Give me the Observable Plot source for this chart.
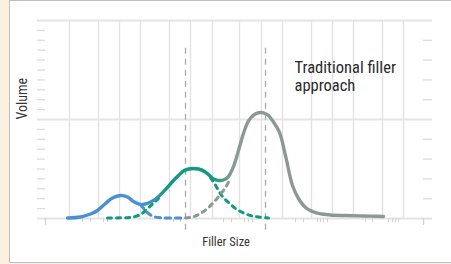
<!DOCTYPE html>
<html><head><meta charset="utf-8">
<script src="https://cdn.jsdelivr.net/npm/d3@7"></script>
<script src="https://cdn.jsdelivr.net/npm/@observablehq/plot@0.6"></script>
<style>
html,body{margin:0;padding:0;}
body{width:451px;height:264px;background:#fdf0e1;position:relative;overflow:hidden;}
#panel{position:absolute;left:9px;top:0;width:442px;height:263px;box-sizing:border-box;border:1px solid #bfbfbf;border-right:none;background:#fff;}
#chart{position:absolute;left:0;top:0;}
</style></head><body><div id="panel"></div><div id="chart"></div>
<script>
// ---- data (x in arbitrary filler-size units, y in volume units) ----
const totalX = [3.0,4.3,5.3,6.0,6.8,7.5,8.3,9.0,9.6,10.3,11.0,11.5,12.0,12.8,13.6,14.1,14.6,15.1,15.6,16.1,16.7,17.2,17.6,18.1,18.6,19.1,19.6,20.1,20.6,21.1,21.6,22.1,22.6,23.1,23.6,24.2,24.8,25.5,26.1,26.8,27.5,28.1,29.3,30.8,32.1,33.3,34.6];
const totalY = [0.005,0.015,0.045,0.081,0.152,0.207,0.232,0.217,0.172,0.141,0.152,0.177,0.212,0.293,0.384,0.434,0.480,0.500,0.505,0.500,0.475,0.434,0.399,0.384,0.389,0.424,0.525,0.687,0.860,0.985,1.045,1.068,1.066,1.040,0.975,0.869,0.636,0.333,0.202,0.111,0.071,0.051,0.035,0.030,0.027,0.024,0.020];
const blueTailX = [10.3,10.7,11.1,11.6,12.3,13.3,14.8];
const blueTailY = [0.141,0.091,0.051,0.020,0.007,0.005,0.005];
const tealLeftX = [7.0,8.3,9.5,10.3,10.9,11.5,12.1];
const tealLeftY = [0.005,0.007,0.015,0.040,0.091,0.146,0.202];
const tealRightX = [17.3,17.7,18.1,18.5,19.1,19.8,20.5,21.3,22.1,23.1];
const tealRightY = [0.414,0.354,0.283,0.222,0.162,0.101,0.061,0.030,0.015,0.005];
const grayLeftX = [14.8,15.5,16.3,17.0,17.6,18.2,18.8,19.3];
const grayLeftY = [0.005,0.015,0.051,0.101,0.162,0.232,0.313,0.404];
const gridX = [3.2,6.1,8.2,10.3,13.2,15.3,17.5,20.2,22.4,24.5,27.4,29.5,31.6,34.5,36.6];
const gridY = [0,1,2];
const majorTicksX = [0.8,38.6];
const minorTicksX = [4.5,5.3,6.6,7.0,13.6,14.3,18.6,19.4,20.7,21.1,21.5,25.8,26.6,28.0,28.3,28.6,29.0,32.8,33.5,35.1,35.5,35.8,36.1];
const leftTicksY = [0.1,0.2,0.3,0.4,0.5,0.6,0.7,0.8,0.9,1.1,1.2,1.3,1.4,1.5,1.6,1.7,1.8,1.9];
const rightTicksY = [0.2,0.4,0.6,0.8,1.2,1.4,1.6,1.8];
const markerX = [14.8,22.8];
const markerTop = 1.72;
const gradX = [3.0,11.0,13.0,17.5,19.5,34.6];
const gradColors = ["#4a90d2","#4a90d2","#119a82","#119a82","#8b9996","#8b9996"];
const annotation = "Traditional filler\napproach";
const annotationX = 25.7, annotationY = 1.60;
const yLabel = "Volume", xLabel = "Filler Size";

const pts = (xs, ys) => xs.map((x, i) => ({x, y: ys[i]}));
const FONT = "'Liberation Sans Narrow','Arial Narrow','Roboto Condensed','Liberation Sans',Arial,sans-serif";

const chart = Plot.plot({
  width: 451, height: 264,
  marginLeft: 37, marginRight: 19, marginTop: 20, marginBottom: 46,
  x: {domain: [0, 39.5], axis: null},
  y: {domain: [0, 2], axis: null},
  style: {background: "transparent", fontFamily: FONT},
  marks: [
    Plot.ruleX(gridX, {x: d => d, y1: 0, y2: 2, stroke: "#e2e2e2", strokeWidth: 1.4}),
    Plot.ruleY(gridY, {y: d => d, stroke: "#e4e4e4", strokeWidth: 1.8}),
    Plot.ruleY(leftTicksY, {y: d => d, insetRight: 387, stroke: "#dcdcdc", strokeWidth: 1.3}),
    Plot.ruleY(rightTicksY, {y: d => d, insetLeft: 386, stroke: "#dcdcdc", strokeWidth: 1.3}),
    Plot.ruleX(majorTicksX, {x: d => d, y1: 0, y2: 0, insetBottom: -7, stroke: "#d4d4d4", strokeWidth: 1.4}),
    Plot.ruleX(minorTicksX, {x: d => d, y1: 0, y2: 0, insetBottom: -4, stroke: "#d4d4d4", strokeWidth: 1.1}),
    Plot.ruleX(markerX, {x: d => d, y1: markerTop, y2: 0, insetBottom: -12, stroke: "#a9a9a9", strokeWidth: 1.3, strokeDasharray: "6,5"}),
    Plot.line(pts(blueTailX, blueTailY), {x: "x", y: "y", curve: "catmull-rom", stroke: "#4a90d2", strokeWidth: 3, strokeDasharray: "5,5"}),
    Plot.line(pts(tealLeftX, tealLeftY), {x: "x", y: "y", curve: "catmull-rom", stroke: "#0f9a78", strokeWidth: 3, strokeDasharray: "4,5"}),
    Plot.line(pts(tealRightX, tealRightY), {x: "x", y: "y", curve: "catmull-rom", stroke: "#0f9a78", strokeWidth: 3, strokeDasharray: "4,5"}),
    Plot.line(pts(grayLeftX, grayLeftY), {x: "x", y: "y", curve: "catmull-rom", stroke: "#8b9996", strokeWidth: 3, strokeDasharray: "4,5"}),
    Plot.line(pts(totalX, totalY), {x: "x", y: "y", curve: "catmull-rom", stroke: "url(#solidGrad)", strokeWidth: 3.4, strokeLinecap: "round", strokeLinejoin: "round"}),
    Plot.text([annotation], {x: annotationX, y: annotationY, text: d => d, textAnchor: "start", lineAnchor: "top", fontSize: 16.5, lineHeight: 1.09, fill: "#2a2a2a"}),
    Plot.text([yLabel], {frameAnchor: "left", dx: -15, rotate: -90, text: d => d, fontSize: 14, fill: "#333"}),
    Plot.text([xLabel], {frameAnchor: "bottom", dx: -9, dy: 27, text: d => d, fontSize: 12.5, fill: "#333"})
  ]
});

const xs = chart.scale("x");
const x1 = xs.apply(gradX[0]), x2 = xs.apply(gradX[gradX.length - 1]);
const defs = d3.select(chart).insert("defs", ":first-child");
const lg = defs.append("linearGradient").attr("id", "solidGrad")
  .attr("gradientUnits", "userSpaceOnUse")
  .attr("x1", x1).attr("x2", x2).attr("y1", 0).attr("y2", 0);
gradX.forEach((v, i) => {
  lg.append("stop").attr("offset", (xs.apply(v) - x1) / (x2 - x1)).attr("stop-color", gradColors[i]);
});
document.getElementById("chart").appendChild(chart);
</script></body></html>
